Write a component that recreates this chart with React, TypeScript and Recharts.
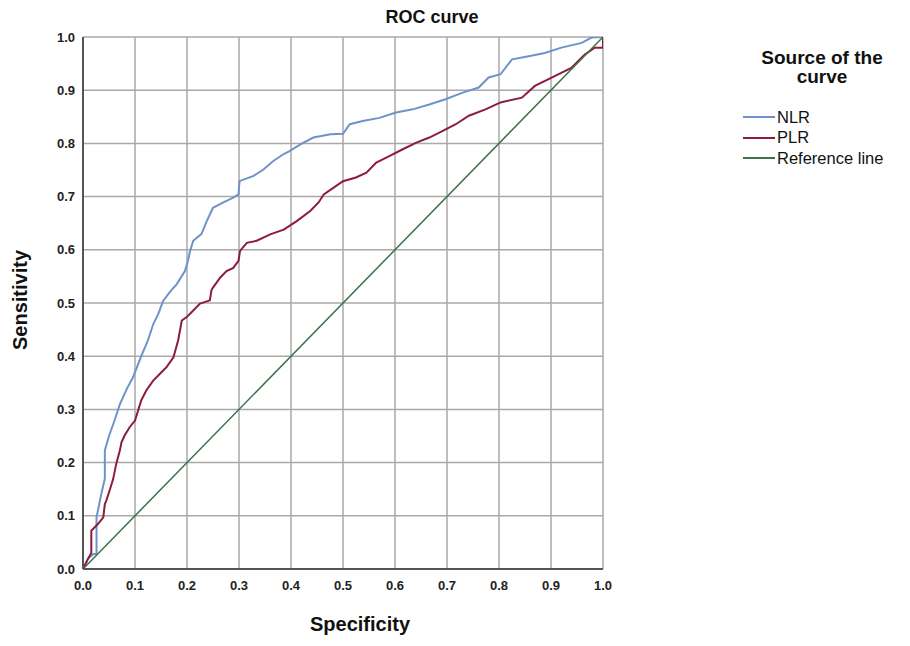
import { LineChart, Line, XAxis, YAxis, CartesianGrid } from 'recharts';

// ROC points: [1 - specificity, sensitivity]
const nlrFpr = [0, 0.01, 0.02, 0.026, 0.026, 0.035, 0.042, 0.042, 0.05, 0.061, 0.071, 0.085, 0.096, 0.112, 0.125, 0.135, 0.145, 0.154, 0.168, 0.18, 0.196, 0.202, 0.206, 0.212, 0.228, 0.238, 0.25, 0.27, 0.289, 0.299, 0.301, 0.328, 0.347, 0.366, 0.386, 0.398, 0.418, 0.443, 0.476, 0.5, 0.513, 0.538, 0.57, 0.602, 0.634, 0.666, 0.697, 0.729, 0.761, 0.78, 0.803, 0.825, 0.857, 0.888, 0.92, 0.959, 0.978, 1.0];
const nlrTpr = [0, 0.02, 0.028, 0.028, 0.097, 0.14, 0.17, 0.223, 0.25, 0.28, 0.31, 0.34, 0.36, 0.4, 0.43, 0.46, 0.48, 0.504, 0.522, 0.535, 0.56, 0.58, 0.598, 0.617, 0.63, 0.654, 0.679, 0.689, 0.698, 0.704, 0.729, 0.739, 0.751, 0.767, 0.78, 0.786, 0.798, 0.811, 0.817, 0.818, 0.836, 0.842, 0.848, 0.858, 0.864, 0.873, 0.883, 0.895, 0.905, 0.924, 0.93, 0.958, 0.964, 0.97, 0.98, 0.989, 0.999, 1.0];

const plrFpr = [0, 0.01, 0.016, 0.016, 0.022, 0.029, 0.039, 0.042, 0.045, 0.051, 0.058, 0.064, 0.071, 0.074, 0.08, 0.09, 0.1, 0.106, 0.112, 0.122, 0.135, 0.148, 0.161, 0.174, 0.183, 0.19, 0.2, 0.212, 0.225, 0.244, 0.247, 0.25, 0.264, 0.276, 0.289, 0.299, 0.302, 0.315, 0.334, 0.36, 0.386, 0.411, 0.437, 0.453, 0.463, 0.482, 0.5, 0.525, 0.545, 0.564, 0.589, 0.615, 0.64, 0.666, 0.691, 0.717, 0.742, 0.774, 0.803, 0.844, 0.869, 0.908, 0.939, 0.965, 0.984, 1.0, 1.0];
const plrTpr = [0, 0.02, 0.03, 0.072, 0.078, 0.085, 0.097, 0.122, 0.129, 0.147, 0.169, 0.198, 0.223, 0.238, 0.251, 0.267, 0.279, 0.298, 0.317, 0.336, 0.354, 0.367, 0.38, 0.398, 0.43, 0.467, 0.474, 0.486, 0.499, 0.505, 0.524, 0.529, 0.548, 0.56, 0.566, 0.579, 0.598, 0.613, 0.617, 0.629, 0.638, 0.654, 0.673, 0.689, 0.704, 0.717, 0.729, 0.736, 0.745, 0.764, 0.776, 0.789, 0.801, 0.811, 0.823, 0.836, 0.852, 0.864, 0.877, 0.886, 0.908, 0.927, 0.942, 0.967, 0.98, 0.98, 1.0];

const refFpr = [0, 1];
const refTpr = [0, 1];

const ticks = [0, 0.1, 0.2, 0.3, 0.4, 0.5, 0.6, 0.7, 0.8, 0.9, 1.0];

const series = [
  { name: 'NLR', color: '#6f93c8', fpr: nlrFpr, tpr: nlrTpr },
  { name: 'PLR', color: '#8c1c3c', fpr: plrFpr, tpr: plrTpr },
  { name: 'Reference line', color: '#3f7048', fpr: refFpr, tpr: refTpr },
];

const font = 'Arial, "Liberation Sans", sans-serif';

function LegendBox() {
  return (
    <div style={{ position: 'absolute', left: 729, top: 40, width: 170, fontFamily: font, color: '#111' }}>
      <div style={{ fontWeight: 'bold', fontSize: 19, lineHeight: '19px', textAlign: 'center' }}>
        Source of the
        <br />
        curve
      </div>
      <div style={{ marginTop: 21 }}>
        {series.map((s) => (
          <div key={s.name} style={{ display: 'flex', alignItems: 'center', height: 20.5, fontSize: 16.5 }}>
            <svg width={32} height={4} style={{ marginLeft: 6, marginRight: 2 }}>
              <line x1={0} y1={2} x2={32} y2={2} stroke={s.color} strokeWidth={2} />
            </svg>
            <span>{s.name}</span>
          </div>
        ))}
      </div>
    </div>
  );
}

export default function App() {
  const tickStyle = { fontSize: 13, fontWeight: 'bold', fill: '#222', fontFamily: font };
  return (
    <div style={{ position: 'relative', width: 894, height: 630, fontFamily: font }}>
      <div
        style={{
          position: 'absolute',
          left: 324,
          width: 200,
          top: -1,
          textAlign: 'center',
          fontWeight: 'bold',
          fontSize: 18,
          color: '#111',
        }}
      >
        ROC curve
      </div>
      <LineChart width={894} height={630} margin={{ top: 29, right: 299, bottom: 39, left: 0 }}>
        <CartesianGrid stroke="#a9a9a9" strokeWidth={1.5} />
        <XAxis
          type="number"
          dataKey="x"
          domain={[0, 1]}
          ticks={ticks}
          tickFormatter={(v: number) => v.toFixed(1)}
          tick={tickStyle}
          tickSize={0}
          tickMargin={12}
          height={30}
          axisLine={{ stroke: '#555', strokeWidth: 2 }}
          allowDataOverflow
          label={{ value: 'Specificity', position: 'bottom', offset: 18, dx: 17, style: { fontSize: 20, fontWeight: 'bold', fill: '#111', fontFamily: font } }}
        />
        <YAxis
          type="number"
          dataKey="y"
          domain={[0, 1]}
          ticks={ticks}
          tickFormatter={(v: number) => v.toFixed(1)}
          tick={tickStyle}
          tickSize={0}
          tickMargin={8}
          width={75}
          axisLine={{ stroke: '#555', strokeWidth: 2 }}
          allowDataOverflow
          label={{ value: 'Sensitivity', angle: -90, position: 'insideLeft', offset: 12, dy: -3, style: { textAnchor: 'middle', fontSize: 20, fontWeight: 'bold', fill: '#111', fontFamily: font } }}
        />
        {series.map((s) => (
          <Line
            key={s.name}
            name={s.name}
            data={s.fpr.map((x, i) => ({ x, y: s.tpr[i] }))}
            dataKey="y"
            type="linear"
            stroke={s.color}
            strokeWidth={s.name === 'Reference line' ? 1.5 : 2}
            dot={false}
            activeDot={false}
            isAnimationActive={false}
          />
        ))}
      </LineChart>
      <LegendBox />
    </div>
  );
}
